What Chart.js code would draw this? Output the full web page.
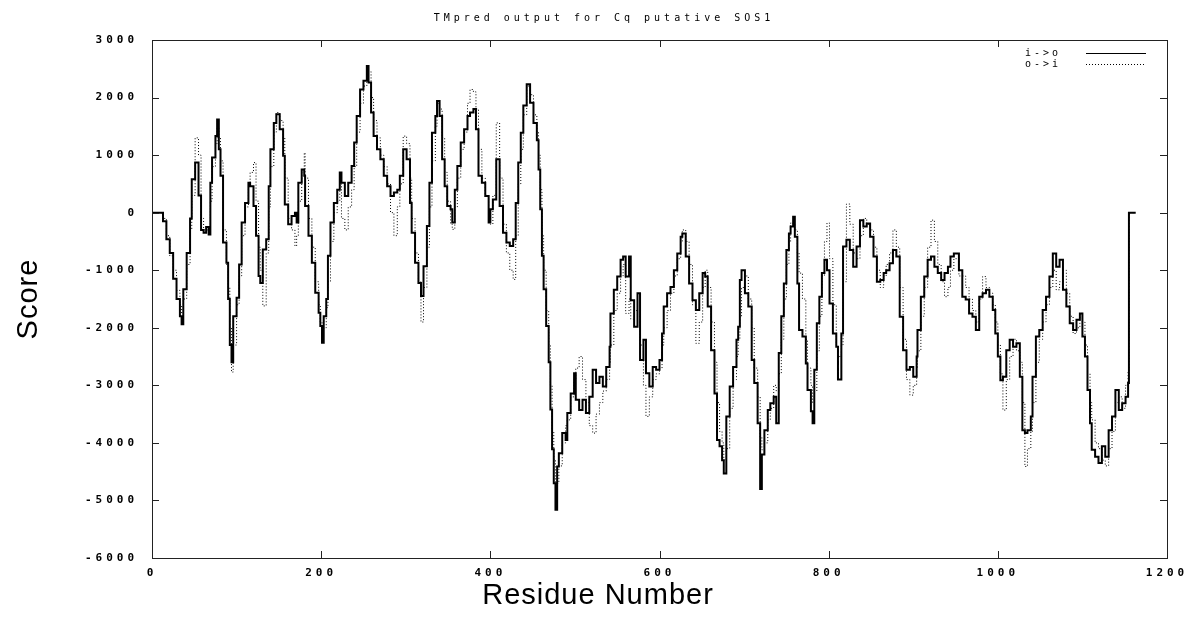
<!DOCTYPE html>
<html>
<head>
<meta charset="utf-8">
<script src="https://cdn.jsdelivr.net/npm/chart.js@4.4.1/dist/chart.umd.min.js"></script>
<style>
  html, body { margin: 0; background: #fff; }
  #wrap { width: 1204px; height: 620px; }
</style>
</head>
<body>
<div id="wrap"><canvas id="chart"></canvas></div>
<script>
// residue positions sampled off the plot, with the two TMpred score traces
const residues = [
  0, 5, 10, 13, 17, 21, 25, 29, 33, 35, 37, 41, 45, 47, 51, 55, 58, 61, 64, 67,
  69, 71, 75, 77, 79, 81, 84, 88, 90, 92, 94, 96, 100, 103, 106, 110, 114, 116, 120, 123,
  126, 128, 131, 135, 138, 140, 144, 147, 151, 155, 157, 161, 165, 169, 171, 173, 177, 180, 181, 185,
  189, 193, 197, 199, 201, 203, 206, 208, 211, 215, 219, 222, 224, 228, 232, 236, 239, 242, 246, 250,
  254, 256, 259, 262, 266, 270, 274, 278, 282, 286, 290, 293, 297, 301, 305, 307, 311, 315, 318, 321,
  325, 328, 331, 335, 337, 340, 343, 346, 349, 353, 355, 358, 361, 365, 369, 373, 376, 380, 383, 386,
  390, 394, 398, 400, 403, 407, 411, 415, 419, 423, 427, 430, 433, 436, 439, 443, 447, 451, 455, 457,
  459, 461, 463, 466, 469, 471, 473, 475, 477, 479, 481, 485, 489, 491, 495, 499, 501, 505, 509, 513,
  517, 521, 525, 529, 533, 537, 541, 542, 546, 550, 554, 557, 560, 564, 566, 570, 574, 577, 581, 584,
  588, 592, 596, 600, 603, 605, 609, 613, 617, 621, 625, 627, 631, 635, 639, 643, 647, 651, 654, 657,
  661, 665, 668, 671, 674, 676, 679, 683, 687, 691, 693, 695, 697, 701, 705, 709, 712, 716, 719, 721,
  724, 728, 731, 735, 738, 741, 744, 747, 750, 753, 755, 758, 760, 763, 765, 769, 773, 775, 779, 781,
  783, 786, 789, 792, 795, 798, 801, 805, 809, 811, 815, 817, 821, 825, 829, 833, 837, 841, 845, 849,
  853, 857, 861, 865, 868, 872, 876, 880, 884, 888, 892, 896, 900, 904, 905, 909, 913, 917, 921, 925,
  929, 933, 937, 941, 944, 948, 954, 958, 962, 966, 970, 974, 978, 982, 986, 990, 994, 997, 1000, 1003,
  1006, 1010, 1014, 1018, 1022, 1026, 1029, 1032, 1035, 1039, 1041, 1045, 1049, 1053, 1057, 1061, 1065, 1069, 1073, 1077,
  1081, 1085, 1089, 1093, 1097, 1100, 1103, 1106, 1109, 1111, 1115, 1119, 1123, 1127, 1131, 1135, 1139, 1143, 1147, 1151,
  1154, 1155, 1163
];

const scoreInOut = [
  0, 0, 0, -150, -460, -700, -1150, -1500, -1800, -1940, -1330, -700, -100, 580, 870, 300, -300, -350, -250, -380,
  520, 960, 1330, 1620, 1100, 640, -520, -870, -1500, -2300, -2600, -1800, -1480, -900, -170, 170, 520, 460, 115, -400,
  -1100, -1220, -640, -460, 460, 1100, 1560, 1710, 1450, 990, 140, -200, -60, 0, -170, 520, 750, 640, 115, -400,
  -870, -1390, -1740, -1970, -2260, -1800, -1500, -750, -170, 170, 400, 700, 520, 290, 520, 810, 1220, 1680, 2140, 2290,
  2550, 2260, 1740, 1330, 1100, 930, 640, 460, 290, 350, 400, 640, 1100, 930, 170, -350, -870, -1220, -1450, -930,
  -230, 520, 1390, 1680, 1940, 1680, 930, 460, 115, 60, -170, 400, 810, 1220, 1450, 1680, 1740, 1800, 1450, 640,
  520, 290, -170, 60, 230, 930, 115, -350, -520, -580, -460, 170, 870, 1390, 1860, 2230, 1910, 1560, 1260, 750,
  60, -750, -1330, -1970, -2600, -3420, -4110, -4700, -5160, -4410, -4180, -3830, -3950, -3480, -3140, -2790, -3250, -3430, -3250, -3480,
  -3200, -2730, -2960, -2850, -3020, -2680, -2330, -1750, -1340, -1110, -820, -760, -1110, -760, -1520, -1980, -1400, -2560, -2210, -2790,
  -3020, -2680, -2730, -2560, -2100, -1630, -1400, -1290, -1000, -710, -420, -360, -760, -1230, -1520, -1690, -1400, -1050, -1110, -1630,
  -2390, -3140, -3950, -4060, -4300, -4530, -3540, -3020, -2680, -2210, -1980, -1170, -1000, -1400, -1630, -2560, -2960, -3660, -4800, -4200,
  -3780, -3430, -3310, -3200, -3660, -2440, -1800, -1230, -650, -360, -240, -70, -420, -1230, -2040, -2150, -2620, -3080, -3450, -3660,
  -2730, -1920, -1460, -1050, -820, -1000, -1580, -2100, -2330, -2900, -2100, -590, -470, -650, -940, -590, -130, -240, -190, -420,
  -760, -1200, -1170, -1050, -1000, -880, -650, -760, -1810, -2390, -2730, -2680, -2850, -2500, -2040, -1460, -1110, -820, -760, -940,
  -1050, -1170, -1050, -940, -760, -710, -1000, -1460, -1510, -1750, -1810, -2040, -1460, -1400, -1340, -1460, -1690, -2100, -2500, -2910,
  -2850, -2390, -2210, -2330, -2270, -2850, -3780, -3830, -3780, -3540, -2850, -2150, -2040, -1690, -1460, -1110, -710, -940, -820, -1340,
  -1630, -1920, -2040, -1860, -1750, -2150, -2500, -3080, -3660, -4120, -4240, -4350, -4060, -4240, -3780, -3540, -3080, -3430, -3310, -3200,
  -2960, 0, 0
];

const scoreOutIn = [
  0, 0, 0, -100, -400, -750, -1000, -1350, -1600, -1750, -1500, -900, -300, 300, 1300, 1000, -100, -300, -300, -350,
  200, 800, 1200, 1500, 1300, 900, -300, -900, -1300, -2000, -2770, -2300, -1600, -1100, -400, 100, 450, 700, 870, 200,
  -600, -1000, -1620, -700, 100, 800, 1400, 1740, 1600, 1300, 600, -100, -300, -580, -400, 200, 700, 1040, 600, -100,
  -600, -1200, -1600, -1900, -2050, -2000, -1650, -1200, -500, 0, 200, 500, -100, -300, 100, 400, 800, 1400, 1900, 2200,
  2500, 2450, 2000, 1600, 1300, 1000, 800, 500, 0, -400, 100, 500, 1330, 1200, 600, -100, -700, -1200, -1900, -1300,
  -600, 100, 900, 1500, 1900, 1800, 1300, 700, 200, -200, -290, 100, 600, 1100, 1400, 1900, 2140, 2100, 1800, 1100,
  600, 300, -100, -200, 300, 1560, 600, -200, -700, -1000, -1160, -400, 500, 1100, 1700, 2200, 2050, 1700, 1400, 1000,
  400, -400, -1000, -1700, -2300, -3000, -3800, -4300, -4800, -4700, -4400, -4000, -3700, -3600, -3200, -2900, -2700, -2500, -2900, -3300,
  -3700, -3830, -3500, -3300, -3100, -2900, -2600, -2300, -1700, -1400, -1100, -900, -1750, -1500, -1850, -1700, -1800, -2300, -3000, -3540,
  -3200, -2900, -2800, -2700, -2300, -2000, -1700, -1400, -1100, -800, -500, -300, -500, -900, -1600, -2270, -1900, -1300, -1000, -1300,
  -1900, -2600, -3300, -3800, -4000, -4300, -4100, -3400, -2900, -2500, -2200, -1800, -1300, -1100, -1500, -2000, -2700, -3200, -3900, -4120,
  -4000, -3600, -3400, -3000, -3100, -2800, -2200, -1500, -900, -500, -180, -200, -300, -700, -1050, -1500, -2200, -2700, -3000, -3310,
  -3100, -2400, -1800, -1100, -500, -180, -800, -1600, -2300, -2500, -2300, -1200, 150, -200, -700, -800, -400, -100, -200, -300,
  -600, -1000, -1300, -1100, -900, -700, -300, -600, -1300, -2200, -2900, -3170, -3000, -2700, -2400, -1800, -1300, -600, -130, -500,
  -900, -1200, -1460, -1300, -1000, -800, -1100, -1100, -1300, -1500, -1700, -1900, -1500, -1110, -1300, -1400, -1600, -1900, -2300, -2800,
  -3430, -2900, -2500, -2200, -2400, -2600, -3300, -4410, -4100, -3800, -3300, -2600, -2200, -1900, -1600, -1300, -1000, -1340, -1200, -1000,
  -1400, -1800, -2100, -2000, -1750, -1900, -2300, -2800, -3300, -3600, -4000, -4100, -4300, -4400, -4100, -3800, -3300, -3200, -3400, -3000,
  -2760, 0, 0
];

const xTickValues = [0, 200, 400, 600, 800, 1000, 1200];
const yTickValues = [-6000, -5000, -4000, -3000, -2000, -1000, 0, 1000, 2000, 3000];
const seriesLabels = ['i->o', 'o->i'];
const chartTitle = 'TMpred output for Cq putative SOS1';
const xTitle = 'Residue Number';
const yTitle = 'Score';

const MONO = '"DejaVu Sans Mono", "Liberation Mono", monospace';
const SANS = '"Liberation Sans", Arial, sans-serif';

const toPoints = (scores) => residues.map((r, i) => ({ x: r, y: scores[i] }));

// gnuplot look: frame on all sides, ticks pointing inward, wide mono text, key top right
const gnuplotFrame = {
  id: 'gnuplotFrame',
  beforeDraw(chart) {
    chart.ctx.letterSpacing = '4px';
  },
  afterDraw(chart) {
    const { ctx, chartArea: a, scales: { x, y } } = chart;
    ctx.save();
    ctx.strokeStyle = '#222';
    ctx.lineWidth = 1;
    ctx.strokeRect(a.left + 0.5, a.top + 0.5, a.right - a.left, a.bottom - a.top);
    ctx.beginPath();
    x.ticks.forEach(t => {
      const px = Math.round(x.getPixelForValue(t.value)) + 0.5;
      ctx.moveTo(px, a.bottom); ctx.lineTo(px, a.bottom - 7);
      ctx.moveTo(px, a.top); ctx.lineTo(px, a.top + 7);
    });
    y.ticks.forEach(t => {
      const py = Math.round(y.getPixelForValue(t.value)) + 0.5;
      ctx.moveTo(a.left, py); ctx.lineTo(a.left + 7, py);
      ctx.moveTo(a.right, py); ctx.lineTo(a.right - 7, py);
    });
    ctx.stroke();

    // key
    ctx.fillStyle = '#000';
    ctx.textBaseline = 'middle';
    ctx.textAlign = 'left';
    ctx.letterSpacing = '3px';
    ctx.font = `10px ${MONO}`;
    chart.data.datasets.forEach((ds, i) => {
      const rowY = a.top + 13.5 + i * 11;
      ctx.fillText(ds.label, a.right - 142, rowY);
      ctx.save();
      ctx.strokeStyle = ds.borderColor;
      ctx.lineWidth = 1;
      ctx.setLineDash(ds.borderDash || []);
      ctx.beginPath();
      ctx.moveTo(a.right - 81, rowY);
      ctx.lineTo(a.right - 21, rowY);
      ctx.stroke();
      ctx.restore();
    });

    ctx.textAlign = 'center';
    ctx.letterSpacing = '4px';
    ctx.font = `10px ${MONO}`;
    ctx.fillText(chartTitle, chart.width / 2 + 2, 18);

    ctx.letterSpacing = '1px';
    ctx.font = `29px ${SANS}`;
    ctx.fillText(xTitle, 598, 596);
    ctx.translate(29, 299);
    ctx.rotate(-Math.PI / 2);
    ctx.fillText(yTitle, 0, 0);
    ctx.restore();
    ctx.letterSpacing = '0px';
  }
};

new Chart(document.getElementById('chart'), {
  type: 'line',
  data: {
    datasets: [
      {
        label: seriesLabels[0],
        data: toPoints(scoreInOut),
        borderColor: '#000',
        borderWidth: 2,
        stepped: true,
        pointRadius: 0
      },
      {
        label: seriesLabels[1],
        data: toPoints(scoreOutIn),
        borderColor: '#000',
        borderWidth: 1,
        borderDash: [1, 2],
        stepped: true,
        pointRadius: 0
      }
    ]
  },
  options: {
    responsive: true,
    maintainAspectRatio: false,
    animation: false,
    layout: { padding: { left: 0, top: 40, right: 37, bottom: 0 } },
    plugins: {
      title: { display: false },
      tooltip: { enabled: false },
      legend: { display: false }
    },
    scales: {
      x: {
        type: 'linear',
        min: 0,
        max: 1200,
        afterBuildTicks: (scale) => { scale.ticks = xTickValues.map(v => ({ value: v })); },
        afterFit: (scale) => { scale.height = 62; },
        grid: { display: false, drawTicks: false },
        border: { display: false },
        ticks: {
          color: '#000', padding: 9, maxRotation: 0,
          font: { family: MONO, size: 11, weight: 'bold' },
          callback: (v) => String(v)
        }
      },
      y: {
        type: 'linear',
        min: -6000,
        max: 3000,
        afterBuildTicks: (scale) => { scale.ticks = yTickValues.map(v => ({ value: v })); },
        afterFit: (scale) => { scale.width = 152; },
        grid: { display: false, drawTicks: false },
        border: { display: false },
        ticks: {
          color: '#000', padding: 14,
          font: { family: MONO, size: 11, weight: 'bold' },
          callback: (v) => String(v)
        }
      }
    }
  },
  plugins: [gnuplotFrame]
});
</script>
</body>
</html>
